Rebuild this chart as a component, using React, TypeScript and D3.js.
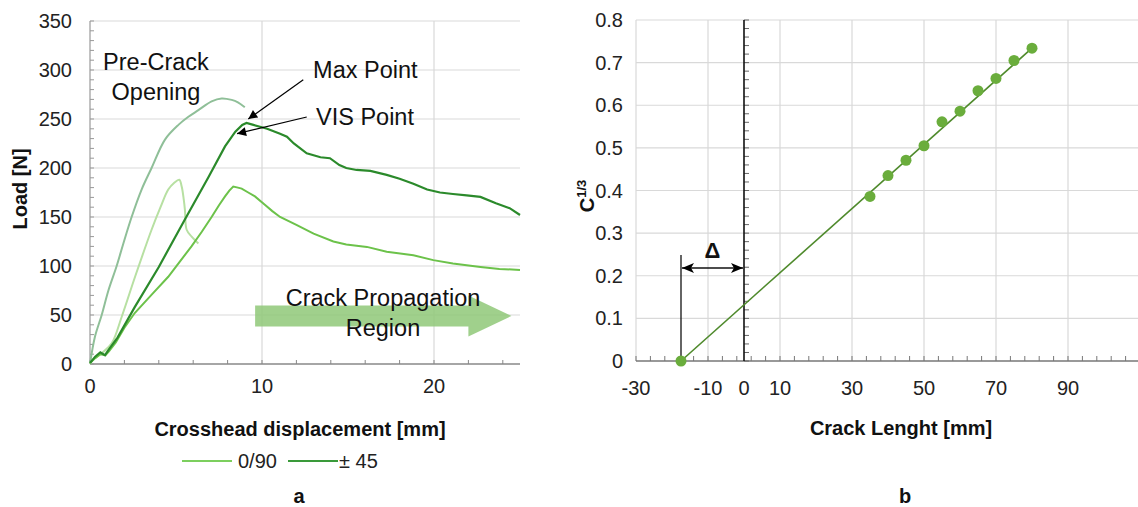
import React from "react";
import * as d3 from "d3";

// ---- Panel a: load vs crosshead displacement ----
const loadXTicks = [0, 10, 20];
const loadYTicks = [0, 50, 100, 150, 200, 250, 300, 350];

// ±45 laminate
const pm45X = [0, 0.3, 0.6, 0.87, 1.1, 1.6, 2.6, 4.0, 5.5, 6.9, 7.85, 8.45, 8.85, 9.1, 9.5, 10.3, 11.05, 11.45, 11.85, 12.6, 13.4, 13.95, 14.5, 14.9, 15.5, 16.3, 17.25, 18.0, 18.8, 19.6, 20.35, 21.1, 21.9, 22.7, 23.6, 24.4, 25];
const pm45Y = [1, 7.5, 12, 9, 15, 27, 58, 99, 147, 191, 222, 237, 244, 246, 244, 240, 235, 232, 225, 215, 211, 210, 203, 200, 198, 197, 193, 189, 184, 178, 175, 173.5, 172, 170.5, 164, 159, 152];

// 0/90 laminate
const cp090X = [0, 0.3, 0.6, 0.9, 1.1, 1.5, 2.0, 2.6, 3.6, 4.55, 5.2, 5.9, 6.5, 7.07, 7.5, 7.85, 8.1, 8.33, 8.6, 8.82, 9.2, 9.59, 10.2, 10.6, 11.05, 12.0, 13.0, 14.15, 14.9, 16.1, 17.25, 18.8, 19.96, 21.1, 22.7, 23.8, 25];
const cp090Y = [1, 6, 10, 9, 13, 22, 37, 52, 71, 89, 104, 120, 135, 150, 162, 171, 177, 181, 180, 179, 175, 171, 162, 156, 150, 142, 133, 125, 122, 119.5, 114.5, 111, 106, 102.5, 99, 97, 96];

// pre-crack opening runs
const preA_X = [0, 0.29, 0.68, 1.07, 1.55, 1.94, 2.42, 3.0, 3.58, 4.36, 5.14, 5.7, 6.3, 7.07, 7.65, 8.24, 8.6, 9.0];
const preA_Y = [0, 28, 50, 75, 100, 123, 150, 178, 200, 229, 244, 252, 259, 268, 271, 269.5, 267, 262];
const preB_X = [0, 0.1, 0.68, 1.26, 1.84, 2.62, 3.58, 4.1, 4.55, 4.9, 5.19, 5.33, 5.45, 5.52, 5.62, 5.91, 6.3];
const preB_Y = [0, 3, 11, 21, 48, 89, 137, 160, 178, 185, 188, 181, 168, 157, 137, 130, 123];

// ---- Panel b: compliance calibration ----
const crackX = [35, 40, 45, 50, 55, 60, 65, 70, 75, 80];
const complY = [0.386, 0.435, 0.471, 0.505, 0.561, 0.586, 0.634, 0.663, 0.705, 0.734];
const deltaX = -17.5;
const fitX = [deltaX, 80];
const fitY = [0, 0.734];
const crackGridX = [-30, -10, 10, 30, 50, 70, 90, 110];
const crackLabelX = [-30, -10, 0, 10, 30, 50, 70, 90];
const complTicks = [0, 0.1, 0.2, 0.3, 0.4, 0.5, 0.6, 0.7, 0.8];

const FONT = "'Liberation Sans', Arial, sans-serif";
const GRID = "#d9d9d9";

export default function App() {
  const xL = d3.scaleLinear().domain([0, 25]).range([90, 520]);
  const yL = d3.scaleLinear().domain([0, 350]).range([364, 21]);
  const xR = d3.scaleLinear().domain([-30, 110]).range([636, 1140]);
  const yR = d3.scaleLinear().domain([0, 0.8]).range([361, 20]);

  const lineL = (xs: number[], ys: number[], smooth = false) => {
    const gen = d3.line<number>().x((_, i) => xL(xs[i])).y((_, i) => yL(ys[i]));
    if (smooth) gen.curve(d3.curveCatmullRom.alpha(0.5));
    return gen(xs) || "";
  };

  const minorXL = d3.range(0, 25.01, 2);
  const minorYL = d3.range(0, 350.01, 10);
  const minorXR = d3.range(-30, 110, 4);
  const minorYR = d3.range(0, 0.8001, 0.02);

  // big translucent arrow
  const ax0 = xL(9.6), ax1 = xL(22.0), axTip = xL(24.5);
  const ayC = yL(49), bodyH = 10.5, headH = 20.5;
  const bigArrow = `M${ax0},${ayC - bodyH} L${ax1},${ayC - bodyH} L${ax1},${ayC - headH} L${axTip},${ayC} L${ax1},${ayC + headH} L${ax1},${ayC + bodyH} L${ax0},${ayC + bodyH} Z`;

  return (
    <svg width={1138} height={507} style={{ position: "absolute", left: 0, top: 0, background: "#fff" }} fontFamily={FONT}>
      <defs>
        <marker id="ah" viewBox="0 0 10 10" refX="10" refY="5" markerWidth="11" markerHeight="9" markerUnits="userSpaceOnUse" orient="auto">
          <path d="M0,0 L10,5 L0,10 Z" fill="#000" />
        </marker>
        <marker id="ahD" viewBox="0 0 12 10" refX="12" refY="5" markerWidth="13" markerHeight="10" markerUnits="userSpaceOnUse" orient="auto-start-reverse">
          <path d="M0,0 L12,5 L0,10 L3,5 Z" fill="#000" />
        </marker>
      </defs>

      {/* ===== Panel a ===== */}
      <g>
        {loadYTicks.filter((v) => v > 0).map((v) => (
          <line key={"gy" + v} x1={xL(0)} x2={xL(25)} y1={yL(v)} y2={yL(v)} stroke={GRID} strokeWidth={1.2} />
        ))}
        {loadXTicks.filter((v) => v > 0).map((v) => (
          <line key={"gx" + v} x1={xL(v)} x2={xL(v)} y1={yL(0)} y2={yL(350)} stroke={GRID} strokeWidth={1.2} />
        ))}
        <line x1={xL(0)} x2={xL(0)} y1={yL(0)} y2={yL(350)} stroke="#999" strokeWidth={1.2} />
        <line x1={xL(0)} x2={xL(25)} y1={yL(0)} y2={yL(0)} stroke="#888" strokeWidth={1.5} />
        {minorYL.map((v) => (
          <line key={"my" + v} x1={xL(0)} x2={xL(0) + 4} y1={yL(v)} y2={yL(v)} stroke="#999" strokeWidth={1} />
        ))}
        {minorXL.map((v) => (
          <line key={"mx" + v} x1={xL(v)} x2={xL(v)} y1={yL(0)} y2={yL(0) - 4} stroke="#888" strokeWidth={1} />
        ))}
        {loadYTicks.map((v) => (
          <text key={"ly" + v} x={72} y={yL(v)} dy="0.35em" textAnchor="end" fontSize={20} fill="#222">{v}</text>
        ))}
        {loadXTicks.map((v) => (
          <text key={"lx" + v} x={xL(v)} y={393} textAnchor="middle" fontSize={20} fill="#222">{v}</text>
        ))}

        {/* crack propagation arrow */}
        <path d={bigArrow} fill="#8fc878" fillOpacity={0.85} />

        {/* curves */}
        <path d={lineL(preA_X, preA_Y, true)} fill="none" stroke="#8fbf98" strokeWidth={2} />
        <path d={lineL(preB_X, preB_Y, true)} fill="none" stroke="#b7e0a2" strokeWidth={2} />
        <path d={lineL(cp090X, cp090Y)} fill="none" stroke="#6cc24a" strokeWidth={2} />
        <path d={lineL(pm45X, pm45Y)} fill="none" stroke="#2b8a2b" strokeWidth={2.2} />

        {/* annotations */}
        <text x={156} y={70} textAnchor="middle" fontSize={23.5} fill="#111">Pre-Crack</text>
        <text x={156} y={100} textAnchor="middle" fontSize={23.5} fill="#111">Opening</text>
        <text x={xL(12.97)} y={78} fontSize={23.5} fill="#111">Max Point</text>
        <line x1={xL(12.4)} y1={yL(290)} x2={xL(9.2)} y2={yL(250)} stroke="#000" strokeWidth={1.2} markerEnd="url(#ah)" />
        <text x={xL(13.14)} y={125} fontSize={23.5} fill="#111">VIS Point</text>
        <line x1={xL(12.6)} y1={yL(252)} x2={xL(8.55)} y2={yL(235)} stroke="#000" strokeWidth={1.2} markerEnd="url(#ah)" />
        <text x={383} y={306} textAnchor="middle" fontSize={23.5} fill="#111">Crack Propagation</text>
        <text x={383} y={336} textAnchor="middle" fontSize={23.5} fill="#111">Region</text>

        {/* titles */}
        <text transform={`translate(27,189) rotate(-90)`} textAnchor="middle" fontSize={20} fontWeight="bold" fill="#111">Load [N]</text>
        <text x={300} y={436} textAnchor="middle" fontSize={20} fontWeight="bold" fill="#111">Crosshead displacement [mm]</text>

        {/* legend */}
        <line x1={182} x2={232} y1={461} y2={461} stroke="#7ccf5e" strokeWidth={2} />
        <text x={238} y={468} fontSize={20} fill="#222">0/90</text>
        <line x1={288} x2={338} y1={461} y2={461} stroke="#3a9a3a" strokeWidth={2} />
        <text x={339} y={468} fontSize={20} fill="#222">± 45</text>
        <text x={299} y={503} textAnchor="middle" fontSize={20} fontWeight="bold" fill="#111">a</text>
      </g>

      {/* ===== Panel b ===== */}
      <g>
        {complTicks.filter((v) => v > 0).map((v) => (
          <line key={"gry" + v} x1={xR(-30)} x2={xR(110)} y1={yR(v)} y2={yR(v)} stroke={GRID} strokeWidth={1.2} />
        ))}
        {crackGridX.map((v) => (
          <line key={"grx" + v} x1={xR(v)} x2={xR(v)} y1={yR(0)} y2={yR(0.8)} stroke={GRID} strokeWidth={1.2} />
        ))}
        <line x1={xR(-30)} x2={xR(110)} y1={yR(0)} y2={yR(0)} stroke="#777" strokeWidth={1.5} />
        {minorXR.map((v) => (
          <line key={"mrx" + v} x1={xR(v)} x2={xR(v)} y1={yR(0)} y2={yR(0) - 5} stroke="#777" strokeWidth={1} />
        ))}
        {minorYR.map((v, i) => (
          <line key={"mry" + i} x1={xR(0)} x2={xR(0) + 5} y1={yR(v)} y2={yR(v)} stroke="#666" strokeWidth={1} />
        ))}
        <line x1={xR(0)} x2={xR(0)} y1={yR(0)} y2={yR(0.8)} stroke="#111" strokeWidth={1.6} />

        {complTicks.map((v) => (
          <text key={"ry" + v} x={623} y={yR(v)} dy="0.35em" textAnchor="end" fontSize={20} fill="#222">{v === 0 ? "0" : v.toFixed(1)}</text>
        ))}
        {crackLabelX.map((v) => (
          <text key={"rx" + v} x={xR(v)} y={395} textAnchor="middle" fontSize={20} fill="#222">{v}</text>
        ))}

        {/* delta offset */}
        <line x1={xR(deltaX)} x2={xR(deltaX)} y1={yR(0)} y2={255} stroke="#111" strokeWidth={1.3} />
        <line x1={xR(deltaX) + 1} x2={xR(0) - 1} y1={268} y2={268} stroke="#111" strokeWidth={1.5} markerStart="url(#ahD)" markerEnd="url(#ahD)" />
        <text x={(xR(deltaX) + xR(0)) / 2} y={258} textAnchor="middle" fontSize={22} fontWeight="bold" fill="#111">Δ</text>

        {/* linear fit and data */}
        <line x1={xR(fitX[0])} y1={yR(fitY[0])} x2={xR(fitX[1])} y2={yR(fitY[1])} stroke="#4f8a2c" strokeWidth={1.6} />
        <circle cx={xR(deltaX)} cy={yR(0)} r={5.5} fill="#6aad3c" />
        {crackX.map((v, i) => (
          <circle key={"pt" + v} cx={xR(v)} cy={yR(complY[i])} r={5.5} fill="#6aad3c" />
        ))}

        {/* titles */}
        <text transform={`translate(594,196) rotate(-90)`} textAnchor="middle" fontWeight="bold" fill="#111">
          <tspan fontSize={20}>C</tspan>
          <tspan fontSize={13} dy={-8}>1/3</tspan>
        </text>
        <text x={901} y={435} textAnchor="middle" fontSize={20} fontWeight="bold" fill="#111">Crack Lenght [mm]</text>
        <text x={905} y={503} textAnchor="middle" fontSize={20} fontWeight="bold" fill="#111">b</text>
      </g>
    </svg>
  );
}
